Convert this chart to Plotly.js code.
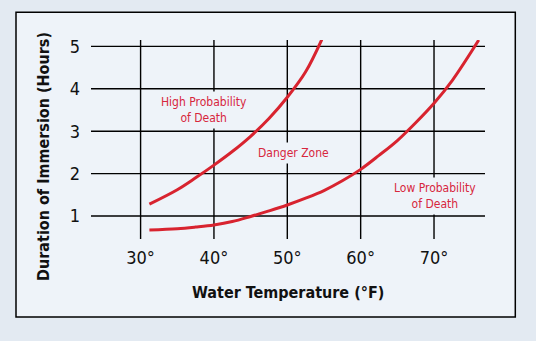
<!DOCTYPE html>
<html>
<head>
<meta charset="utf-8">
<script src="https://cdn.plot.ly/plotly-3.0.1.min.js"></script>
<style>
html,body{margin:0;padding:0;background:#e3eaf2;}
#chart{width:536px;height:341px;}
#chart .gridlayer path{shape-rendering:auto !important;}
</style>
</head>
<body>
<div id="chart"></div>
<script>
// Upper boundary (high probability of death)
const highX = [31.2, 35, 37.5, 40, 42.5, 45, 47.5, 50, 52.5, 54.7];
const highY = [1.28, 1.62, 1.90, 2.20, 2.52, 2.88, 3.30, 3.80, 4.40, 5.16];
// Lower boundary (low probability of death)
const lowX = [31.2, 35, 37.5, 40, 42.5, 45, 47.5, 50, 52.5, 55, 57.5, 60, 62.5, 65, 67.5, 70, 72.5, 76.1];
const lowY = [0.67, 0.70, 0.74, 0.79, 0.87, 0.99, 1.12, 1.26, 1.42, 1.60, 1.83, 2.10, 2.43, 2.78, 3.20, 3.66, 4.20, 5.15];
const xTicks = [30, 40, 50, 60, 70];
const xTickLabels = ['30°', '40°', '50°', '60°', '70°'];
const yTicks = [1, 2, 3, 4, 5];
const labels = ['High Probability<br>of Death', 'Danger Zone', 'Low Probability<br>of Death'];
const labelX = [38.6, 50.9, 70.1];
const labelY = [3.49, 2.48, 1.48];

const narrow = '"DejaVu Sans Condensed", "Liberation Sans Narrow", sans-serif';
const red = '#d8232f';
const frameFill = '#eef3f9';

const traces = [
  {x: highX, y: highY, mode: 'lines', line: {color: red, width: 3, shape: 'spline', smoothing: 1}, hoverinfo: 'skip'},
  {x: lowX, y: lowY, mode: 'lines', line: {color: red, width: 3, shape: 'spline', smoothing: 1}, hoverinfo: 'skip'}
];

const annotations = labels.map((t, i) => ({
  x: labelX[i], y: labelY[i], xref: 'x', yref: 'y', text: t, showarrow: false,
  font: {family: narrow, size: 12, color: '#d7263d'}, bgcolor: frameFill, borderpad: 3, align: 'center'
}));
// plot area: left 91, right 485, top 40, bottom 239
const PW = 394, PH = 199, PL = 91, PB = 239;
annotations.push({
  xref: 'paper', yref: 'paper', x: (43.3 - PL) / PW, y: (PB - 156.7) / PH, xanchor: 'center', yanchor: 'middle',
  text: '<b>Duration of Immersion (Hours)</b>',
  textangle: -90, showarrow: false, font: {family: narrow, size: 16, color: '#111'}
});
annotations.push({
  xref: 'paper', yref: 'paper', x: (287.5 - PL) / PW, y: (PB - 292.3) / PH, xanchor: 'center', yanchor: 'middle',
  text: '<b>Water Temperature (°F)</b>',
  showarrow: false, font: {family: narrow, size: 16, color: '#111'}
});

const layout = {
  width: 536, height: 341,
  margin: {l: PL, r: 536 - 485, t: 40, b: 341 - PB, pad: 0},
  paper_bgcolor: '#e3eaf2',
  plot_bgcolor: 'rgba(0,0,0,0)',
  showlegend: false,
  xaxis: {
    range: [23.24, 76.95], tickvals: xTicks, ticktext: xTickLabels, showgrid: true, gridcolor: '#000', gridwidth: 1.4,
    zeroline: false, showline: false, ticks: '', ticklabelstandoff: 6, tickfont: {family: narrow, size: 18, color: '#111'}, fixedrange: true
  },
  yaxis: {
    range: [0.458, 5.15], tickvals: yTicks, showgrid: true, gridcolor: '#000', gridwidth: 1.4,
    zeroline: false, showline: false, ticks: '', ticklabelstandoff: 10, tickfont: {family: narrow, size: 18, color: '#111'}, fixedrange: true
  },
  shapes: [{
    type: 'rect', xref: 'paper', yref: 'paper', x0: (16 - PL) / PW, x1: (515.3 - PL) / PW,
    y0: (PB - 317) / PH, y1: (PB - 12.3) / PH, fillcolor: frameFill, line: {color: '#000', width: 1.5}, layer: 'below'
  }],
  annotations: annotations
};

Plotly.newPlot('chart', traces, layout, {displayModeBar: false, staticPlot: true});
</script>
</body>
</html>
